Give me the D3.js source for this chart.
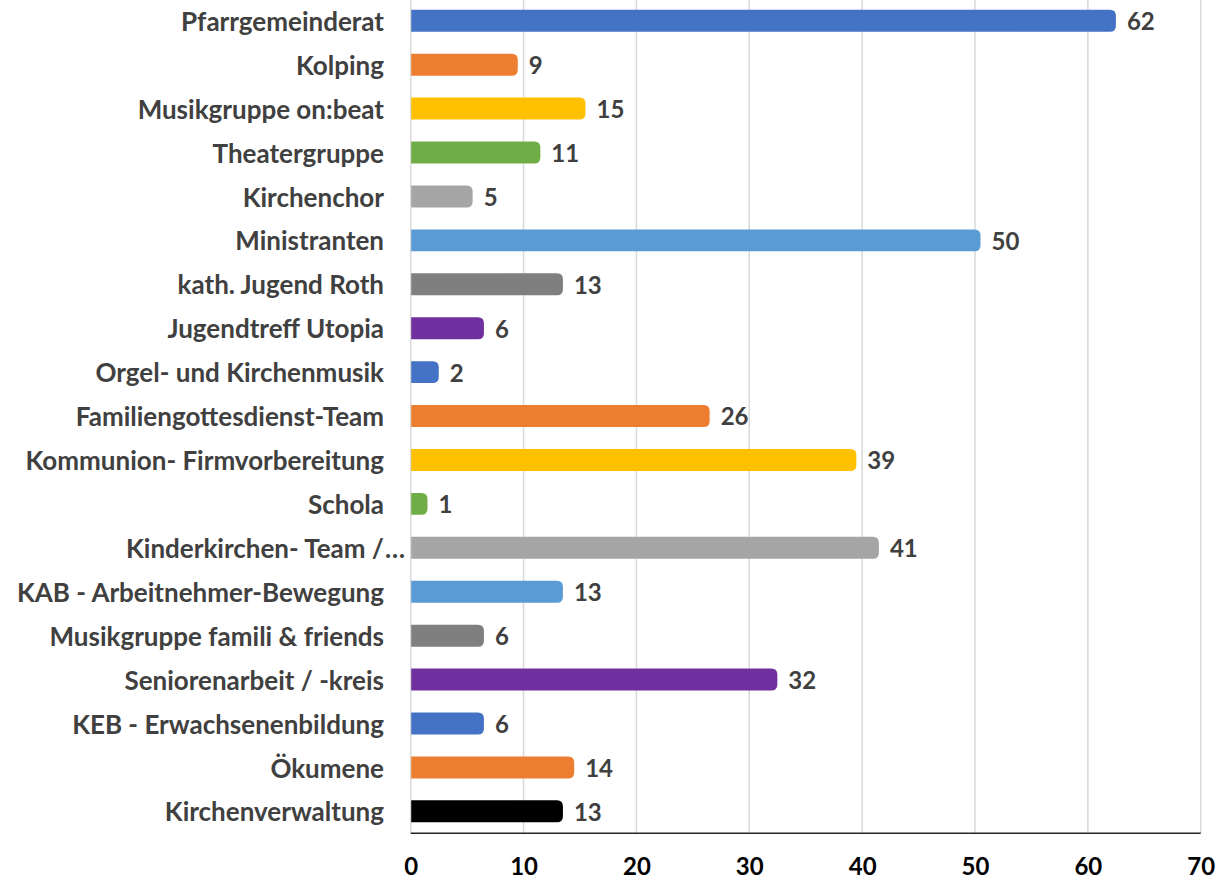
<!DOCTYPE html>
<html><head><meta charset="utf-8">
<script src="https://cdn.jsdelivr.net/npm/d3@7"></script>
<style>body{margin:0;background:#fff;} svg{display:block;}</style>
</head><body>
<svg id="c" width="1229" height="880"></svg>
<script>
const categories = ["Pfarrgemeinderat","Kolping","Musikgruppe on:beat","Theatergruppe","Kirchenchor","Ministranten","kath. Jugend Roth","Jugendtreff Utopia","Orgel- und Kirchenmusik","Familiengottesdienst-Team","Kommunion- Firmvorbereitung","Schola","Kinderkirchen- Team /…","KAB - Arbeitnehmer-Bewegung","Musikgruppe famili & friends","Seniorenarbeit / -kreis","KEB - Erwachsenenbildung","Ökumene","Kirchenverwaltung"];
const values = [62,9,15,11,5,50,13,6,2,26,39,1,41,13,6,32,6,14,13];
const colors = ["#4472C4","#ED7D31","#FFC000","#70AD47","#A5A5A5","#5B9BD5","#7F7F7F","#7030A0","#4472C4","#ED7D31","#FFC000","#70AD47","#A5A5A5","#5B9BD5","#7F7F7F","#7030A0","#4472C4","#ED7D31","#000000"];
const xTicks = [0,10,20,30,40,50,60,70];

(function(){
const FONT = "Lato, 'Open Sans', sans-serif";
const svg = d3.select("#c");
const pL = 410.7, pR = 1200.7, pT = -1.2, pB = 833.3;
const x = d3.scaleLinear().domain([0,70]).range([pL,pR]);
const y = d3.scaleBand().domain(categories).range([pT,pB]).paddingInner(0.5).paddingOuter(0.25);

svg.append("g").selectAll("line").data(xTicks).join("line")
  .attr("x1",d=>x(d)).attr("x2",d=>x(d)).attr("y1",0).attr("y2",pB)
  .attr("stroke","#D9D9D9").attr("stroke-width",1.5);

const ext = 5.5, r = 6;
svg.append("g").selectAll("path").data(values).join("path")
  .attr("d",(v,i)=>{
    const x0 = x(0)+0.5, x1 = x(v)+ext, y0 = y(categories[i]), h = y.bandwidth();
    const rr = Math.min(r,(x1-x0)/2);
    return `M${x0},${y0}H${x1-rr}Q${x1},${y0} ${x1},${y0+rr}V${y0+h-rr}Q${x1},${y0+h} ${x1-rr},${y0+h}H${x0}Z`;
  })
  .attr("fill",(v,i)=>colors[i]);

svg.append("line").attr("x1",pL).attr("x2",pR).attr("y1",pB).attr("y2",pB)
  .attr("stroke","#262626").attr("stroke-width",1.5);

const xa = d3.axisBottom(x).tickValues(xTicks).tickSize(0).tickPadding(0);
const gx = svg.append("g").attr("transform",`translate(0,${pB})`).call(xa);
gx.select(".domain").remove();
gx.selectAll("text").attr("y",33).attr("dy","0.35em")
  .style("font-family",FONT).style("font-weight","bold").style("font-size","24px").attr("fill","#000");

const lab = svg.append("g");
categories.forEach((c,i)=>{
  const cy = y(c)+y.bandwidth()/2 + 1;
  const trunc = c.endsWith("…");
  lab.append("text").attr("x",384).attr("y",cy).attr("dy","0.35em").attr("text-anchor","end")
    .style("font-family",FONT).style("font-weight","bold").style("font-size","26px").attr("fill","#404040")
    .text(trunc?c.slice(0,-1):c);
  if(trunc){
    lab.append("text").attr("x",385).attr("y",cy).attr("dy","0.35em").attr("text-anchor","start")
      .style("font-family",FONT).style("font-weight","bold").style("font-size","26px").attr("fill","#404040")
      .text("…");
  }
});

svg.append("g").selectAll("text").data(values).join("text")
  .attr("x",v=>x(v)+ext+11).attr("y",(v,i)=>y(categories[i])+y.bandwidth()/2 + 1).attr("dy","0.35em")
  .style("font-family",FONT).style("font-weight","bold").style("font-size","24px").attr("fill","#404040")
  .text(v=>v);
})();
</script>
</body></html>
